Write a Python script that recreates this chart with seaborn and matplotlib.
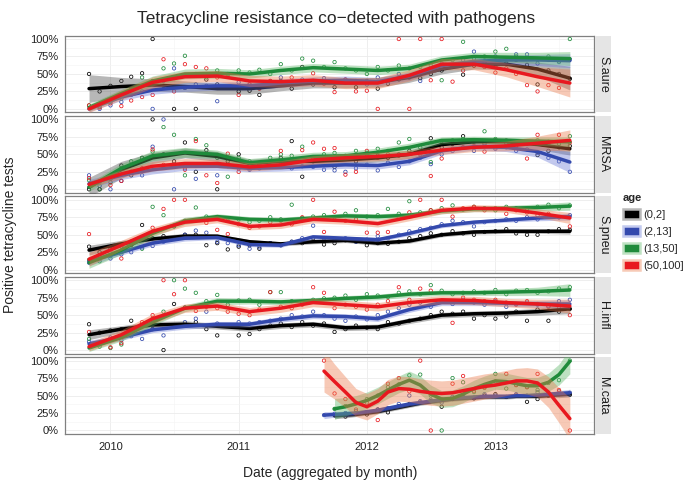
import numpy as np
import pandas as pd
import matplotlib
matplotlib.use("Agg")
import matplotlib.pyplot as plt
import matplotlib.dates as mdates
from matplotlib.ticker import MultipleLocator, FixedLocator
from matplotlib.patches import Patch
from matplotlib.colors import to_rgb
import seaborn as sns

# ── data (all values in %) ────────────────────────────────────────────
months = pd.date_range("2009-11-01", "2013-08-01", freq="MS")   # 46 months
knots = months[::3]                                              # smooth read every 3 months
mc_months = months[22:]                                          # M.cata only from Sep 2011

pathogens = ["S.aure", "MRSA", "S.pneu", "H.infl", "M.cata"]
ages = ["(0,2]", "(2,13]", "(13,50]", "(50,100]"]

saure_pts = {
    "(0,2]":    [50, 25, 33, 40, 46, 51, 100, 33, 0, 30, 0, 42, 35, 30, 25, 26, 20, 33, 40, 29, 60, 35, 40, 31, 38, 31, 40, 29, 36, 42, 45, 44, 50, 55, 60, 49, 62, 67, 60, 65, 70, 63, 35, 55, 50, 43],
    "(2,13]":   [None, 0, 5, 10, 20, 25, 0, 40, 58, 30, 35, 33, 11, 30, 38, 35, 30, 40, 45, 38, 42, 40, 44, 38, 42, 40, 35, 45, 40, 50, 45, 40, 55, 65, 62, 70, 82, 68, 75, 70, 78, 78, 65, 70, 67, 71],
    "(13,50]":  [5, 3, 10, 15, 30, 45, 40, 58, 65, 76, 50, 45, 55, 50, 55, 52, 56, 50, 64, 55, 72, 69, 60, 67, 58, 55, 50, 60, 55, 62, 58, 60, 62, 41, 70, 96, 72, 75, 82, 86, 75, 72, 70, 75, 68, 100],
    "(50,100]": [5, 2, 8, 4, 12, 17, 20, 71, 25, 64, 60, 58, 45, 48, 20, 35, 29, 40, 38, 45, 40, 51, 36, 24, 42, 25, 26, 0, 40, 100, 0, 100, 41, 100, 39, 55, 62, 60, 52, 58, 50, 34, 25, 34, 30, None],
}
mrsa_pts = {
    "(0,2]":    [0, 0, 15, 34, 20, 45, 100, 50, 40, 67, 25, 56, 0, 40, 50, 30, 35, 40, 45, 69, 18, 40, 42, 32, 45, 40, 50, 48, 45, 50, 55, 53, 73, 60, 65, 76, 68, 65, 70, 66, 62, 65, 49, 55, 60, 62],
    "(2,13]":   [20, 5, 0, 12, 25, 20, 61, 100, 0, 30, 15, 35, 20, 33, 30, 28, 30, 32, 35, 30, 33, 32, 28, 27, 25, 30, 35, 27, 38, 32, 40, 45, 36, 50, 55, 60, 55, 62, 58, 60, 55, 57, 52, 45, 40, 25],
    "(13,50]":  [13, 0, 10, 30, 40, 45, 54, 89, 78, 20, 72, 63, 45, 18, 45, 40, 38, 45, 50, 48, 61, 45, 50, 52, 48, 55, 52, 58, 55, 67, 72, 60, 39, 65, 70, 72, 68, 83, 72, 70, 68, 66, 70, 68, 65, 76],
    "(50,100]": [16, 10, 6, 12, 25, 30, 57, 35, 34, 28, 69, 20, 9, 51, 25, 35, 38, 32, 55, 40, 56, 67, 58, 59, 21, 25, 55, 45, 50, 48, 52, 50, 19, 44, 58, 60, 62, 54, 60, 65, 62, 44, 78, 65, 78, 67],
}
spneu_pts = {
    "(0,2]":    [33, 25, 30, 33, 40, 64, 45, 48, 62, 50, 50, 35, 38, 29, 33, 35, 30, 38, 35, 40, 38, 45, 36, 38, 42, 40, 35, 38, 37, 40, 45, 48, 52, 50, 55, 52, 50, 54, 55, 58, 52, 50, 50, 55, 58, 57],
    "(2,13]":   [10, 15, 16, 22, 25, 32, 34, 40, 45, 50, 56, 53, 40, 38, 35, 30, 32, 38, 35, 40, 45, 63, 45, 42, 45, 40, 43, 48, 45, 50, 55, 58, 60, 65, 70, 68, 62, 68, 70, 72, 70, 75, 72, 78, 75, 78],
    "(13,50]":  [14, 12, 20, 25, 35, 30, 90, 78, 63, 70, 89, 76, 74, 70, 72, 68, 70, 75, 72, 93, 74, 76, 78, 75, 80, 85, 76, 78, 87, 80, 98, 82, 85, 88, 92, 86, 90, 88, 85, 90, 88, 86, 90, 93, 88, 92],
    "(50,100]": [51, 20, 25, 16, 35, 45, 60, 87, 100, 100, 70, 67, 57, 51, 65, 60, 62, 68, 70, 65, 75, 100, 54, 83, 70, 72, 53, 53, 54, 75, 82, 100, 85, 100, 76, 88, 90, 85, 88, 80, 85, 82, 78, 80, 75, 62],
}
hinfl_pts = {
    "(0,2]":    [37, 25, 28, 30, 42, 35, 30, 0, 66, 61, 40, 30, 21, 35, 21, 23, 30, 35, 38, 33, 40, 35, 38, 26, 30, 35, 32, 30, 40, 38, 42, 45, 50, 55, 52, 55, 45, 50, 45, 48, 55, 42, 58, 42, 55, 59],
    "(2,13]":   [12, 8, 18, 14, 20, 16, 30, 21, 35, 40, 45, 55, 38, 35, 40, 38, 40, 42, 45, 50, 48, 55, 50, 45, 42, 48, 44, 50, 55, 60, 65, 68, 62, 70, 66, 72, 68, 65, 70, 62, 66, 68, 65, 63, 70, 72],
    "(13,50]":  [16, 5, 3, 8, 25, 35, 45, 55, 100, 88, 82, 70, 79, 65, 71, 72, 65, 83, 83, 70, 68, 72, 74, 75, 78, 72, 80, 78, 76, 82, 84, 80, 93, 85, 80, 82, 84, 82, 86, 80, 85, 86, 82, 84, 88, 90],
    "(50,100]": [26, 10, 4, 10, 28, 40, 50, 100, 80, 100, 56, 62, 60, 55, 52, 50, 58, 83, 62, 60, 65, 90, 82, 60, 65, 62, 58, 65, 70, 90, 72, 88, 85, 70, 39, 75, 72, 70, 72, 68, 65, 70, 66, 62, 60, 50],
}
mcata_pts = {
    "(0,2]":    [None, 22, 20, 25, 23, 30, 26, 35, 38, 40, 42, 34, 45, 48, 46, 50, 52, 48, 50, 41, 45, 50, 52, 51],
    "(2,13]":   [22, 24, 25, 28, 26, 30, 32, 38, 50, 42, 44, 40, 48, 50, 47, 52, 50, 48, 52, 50, 55, 54, 56, 54],
    "(13,50]":  [None, 31, 35, 40, 45, 50, 62, 66, 79, 80, 50, 0, 75, 69, 55, 62, 81, 60, 65, 62, 58, 68, 72, 100],
    "(50,100]": [100, 53, 45, 30, 40, 15, 67, 75, 56, 100, 0, 45, 67, 78, 57, 61, 70, 81, 65, 62, 81, 50, 58, 0],
}

# smoothed trend and half-width of the bands
saure_fit = {
    "(0,2]":    [29, 32, 34, 32, 29, 29, 33, 37, 37, 38, 45, 57, 64, 64, 57, 44],
    "(2,13]":   [0, 17, 27, 31, 33, 33, 37, 40, 41, 39, 47, 62, 68, 70, 70, 69],
    "(13,50]":  [2, 22, 40, 50, 51, 50, 55, 59, 57, 55, 58, 70, 75, 74, 73, 72],
    "(50,100]": [0, 20, 38, 46, 47, 40, 39, 41, 37, 37, 48, 64, 64, 56, 46, 37],
}
saure_se = {
    "(0,2]":    [20, 13, 9, 8, 8, 8, 7, 7, 7, 7, 7, 7, 7, 8, 10, 17],
    "(2,13]":   [4, 5, 6, 6, 6, 6, 6, 6, 6, 6, 6, 6, 6, 7, 8, 10],
    "(13,50]":  [5, 6, 7, 7, 7, 6, 6, 6, 6, 6, 6, 6, 6, 7, 8, 10],
    "(50,100]": [5, 7, 8, 8, 8, 8, 8, 8, 8, 8, 8, 8, 8, 10, 14, 20],
}
mrsa_fit = {
    "(0,2]":    [3, 28, 45, 52, 47, 37, 40, 40, 42, 45, 50, 64, 68, 68, 64, 58],
    "(2,13]":   [8, 20, 28, 33, 33, 30, 31, 33, 35, 34, 40, 55, 61, 60, 54, 39],
    "(13,50]":  [3, 30, 48, 53, 50, 38, 42, 47, 48, 53, 60, 70, 71, 70, 69, 68],
    "(50,100]": [7, 22, 33, 37, 37, 32, 35, 42, 45, 47, 50, 56, 60, 62, 66, 70],
}
mrsa_se = {
    "(0,2]":    [14, 12, 8, 7, 7, 6, 6, 6, 6, 6, 6, 6, 6, 6, 7, 9],
    "(2,13]":   [6, 6, 6, 6, 6, 5, 5, 5, 5, 5, 5, 5, 5, 6, 8, 15],
    "(13,50]":  [6, 7, 7, 7, 6, 6, 6, 6, 6, 6, 6, 5, 5, 5, 6, 7],
    "(50,100]": [5, 6, 7, 7, 6, 6, 6, 6, 6, 6, 6, 6, 6, 7, 10, 15],
}
spneu_fit = {
    "(0,2]":    [28, 37, 44, 48, 48, 40, 37, 40, 42, 38, 41, 50, 54, 55, 55, 55],
    "(2,13]":   [12, 25, 38, 45, 46, 36, 35, 47, 45, 43, 52, 63, 68, 71, 74, 76],
    "(13,50]":  [10, 28, 52, 70, 76, 72, 71, 74, 77, 76, 78, 84, 87, 88, 89, 91],
    "(50,100]": [15, 35, 55, 68, 72, 62, 64, 72, 70, 66, 75, 85, 88, 87, 81, 74],
}
spneu_se = {
    "(0,2]":    [7, 5, 4, 4, 3, 3, 3, 3, 3, 3, 3, 3, 3, 3, 3, 4],
    "(2,13]":   [6, 4, 4, 4, 3, 3, 3, 3, 3, 3, 3, 3, 3, 3, 4, 5],
    "(13,50]":  [8, 6, 5, 5, 4, 4, 4, 4, 4, 4, 4, 4, 4, 4, 5, 6],
    "(50,100]": [10, 7, 6, 6, 5, 5, 5, 5, 5, 5, 5, 5, 5, 5, 6, 8],
}
hinfl_fit = {
    "(0,2]":    [22, 30, 36, 37, 34, 31, 35, 37, 32, 33, 42, 50, 52, 53, 55, 59],
    "(2,13]":   [9, 18, 29, 34, 37, 37, 44, 49, 48, 45, 58, 68, 68, 67, 66, 66],
    "(13,50]":  [3, 18, 40, 60, 70, 70, 69, 71, 74, 76, 80, 82, 82, 83, 84, 86],
    "(50,100]": [5, 22, 45, 60, 63, 55, 60, 68, 65, 62, 68, 72, 71, 68, 66, 63],
}
hinfl_se = {
    "(0,2]":    [7, 5, 5, 5, 4, 4, 4, 4, 4, 4, 4, 4, 4, 4, 5, 7],
    "(2,13]":   [5, 4, 4, 4, 4, 4, 4, 4, 4, 4, 4, 4, 4, 4, 5, 6],
    "(13,50]":  [5, 5, 5, 5, 5, 4, 4, 4, 4, 4, 4, 4, 4, 5, 6, 9],
    "(50,100]": [6, 7, 7, 6, 6, 6, 6, 6, 6, 6, 6, 6, 6, 6, 7, 10],
}
mcata_fit = {
    "(0,2]":    [None, 21, 22, 23, 25, 27, 30, 33, 36, 39, 41, 43, 45, 46, 47, 48, 48, 48, 49, 49, 49, 50, 51, 52],
    "(2,13]":   [22, 23, 24, 25, 27, 29, 32, 35, 38, 40, 42, 44, 46, 47, 48, 49, 49, 49, 50, 50, 51, 52, 53, 54],
    "(13,50]":  [None, 31, 34, 38, 43, 50, 58, 66, 72, 65, 52, 45, 46, 52, 60, 66, 71, 70, 67, 64, 64, 69, 80, 99],
    "(50,100]": [85, 70, 55, 40, 34, 42, 55, 60, 59, 56, 54, 53, 54, 57, 60, 63, 65, 68, 71, 71, 68, 55, 36, 17],
}
mcata_se = {
    "(0,2]":    [None, 4, 4, 3, 3, 3, 3, 3, 3, 3, 3, 3, 3, 3, 3, 3, 3, 3, 3, 3, 3, 3, 4, 4],
    "(2,13]":   [5, 4, 4, 3, 3, 3, 3, 3, 3, 3, 3, 3, 3, 3, 3, 3, 3, 3, 3, 3, 3, 3, 4, 5],
    "(13,50]":  [None, 15, 13, 12, 12, 12, 12, 12, 13, 13, 13, 12, 12, 12, 12, 12, 12, 12, 12, 12, 12, 13, 15, 18],
    "(50,100]": [30, 25, 22, 20, 19, 18, 18, 18, 18, 18, 18, 18, 18, 18, 18, 18, 18, 18, 18, 19, 20, 22, 25, 30],
}

panels = {
    "S.aure": (months, saure_pts, knots, saure_fit, saure_se),
    "MRSA":   (months, mrsa_pts, knots, mrsa_fit, mrsa_se),
    "S.pneu": (months, spneu_pts, knots, spneu_fit, spneu_se),
    "H.infl": (months, hinfl_pts, knots, hinfl_fit, hinfl_se),
    "M.cata": (mc_months, mcata_pts, mc_months, mcata_fit, mcata_se),
}

line_cols = {"(0,2]": "#000000", "(2,13]": "#3349ad", "(13,50]": "#1f8b3b", "(50,100]": "#e8191f"}
band_cols = {"(0,2]": "#4d4d4d", "(2,13]": "#6a7ad6", "(13,50]": "#5cb666", "(50,100]": "#ec7a4a"}
BAND_ALPHA = 0.4

# ── figure ────────────────────────────────────────────────────────────
sns.set_style("white")
plt.rcParams["font.family"] = ["Liberation Sans", "DejaVu Sans"]

fig, axes = plt.subplots(5, 1, figsize=(6.85, 4.82), dpi=100, sharex=True)
fig.subplots_adjust(left=0.0949, right=0.867, top=0.9263, bottom=0.0996, hspace=0.046)

span = months[-1] - months[0]
xlo, xhi = months[0] - 0.05 * span, months[-1] + 0.05 * span

for ax, name in zip(axes, pathogens):
    x_pts, pts, x_fit, fit, se = panels[name]

    # raw monthly proportions (hollow circles)
    for age in ages:
        y = np.array(pts[age], dtype=float) / 100
        ax.scatter(x_pts, y, s=6, facecolors="none", edgecolors=line_cols[age],
                   linewidths=0.55, zorder=2)

    # smooth + confidence band, group by group
    for age in ages:
        f = np.array(fit[age], dtype=float) / 100
        h = np.array(se[age], dtype=float) / 100
        ax.fill_between(x_fit, f - h, f + h, color=band_cols[age], alpha=BAND_ALPHA,
                        lw=0, zorder=3)
        d = pd.DataFrame({"date": x_fit, "p": f}).dropna()
        sns.lineplot(data=d, x="date", y="p", ax=ax, color=line_cols[age],
                     lw=2.5, errorbar=None, zorder=3)

    ax.set_xlim(xlo, xhi)
    ax.set_ylim(-0.05, 1.05)
    ax.yaxis.set_major_locator(FixedLocator([0, 0.25, 0.5, 0.75, 1.0]))
    ax.set_yticklabels(["0%", "25%", "50%", "75%", "100%"])
    ax.yaxis.set_minor_locator(MultipleLocator(0.125))
    ax.xaxis.set_major_locator(mdates.YearLocator())
    ax.xaxis.set_major_formatter(mdates.DateFormatter("%Y"))
    ax.xaxis.set_minor_locator(mdates.MonthLocator(bymonth=7))
    ax.grid(True, which="major", color="#ebebeb", lw=0.6)
    ax.grid(True, which="minor", color="#f4f4f4", lw=0.4)
    ax.set_axisbelow(True)
    ax.tick_params(which="major", length=3, width=0.6, color="#555555",
                   labelsize=8, labelcolor="#222222", pad=1.5)
    ax.tick_params(which="minor", length=0)
    ax.tick_params(axis="x", pad=3)
    for sp in ax.spines.values():
        sp.set_color("#808080")
        sp.set_linewidth(0.9)
    ax.set_xlabel("")
    ax.set_ylabel("")

    # facet strip on the right
    strip = ax.inset_axes([1.0025, 0, 0.0302, 1])
    strip.set_facecolor("#e5e5e5")
    strip.set_xticks([])
    strip.set_yticks([])
    for sp in strip.spines.values():
        sp.set_visible(False)
    strip.text(0.5, 0.5, name, rotation=-90, ha="center", va="center",
               fontsize=9, color="#1a1a1a", transform=strip.transAxes)

fig.text(0.49, 1 - 18 / 482, "Tetracycline resistance co\u2212detected with pathogens",
         ha="center", va="center", fontsize=12.5)
fig.text(0.482, 1 - 473 / 482, "Date (aggregated by month)", ha="center", va="center",
         fontsize=10)
fig.text(10 / 685, 0.513, "Positive tetracycline tests", ha="center", va="center",
         rotation=90, fontsize=10)


def light(c, a=BAND_ALPHA):
    r, g, b = to_rgb(c)
    return (1 - a + a * r, 1 - a + a * g, 1 - a + a * b)


handles = [Patch(facecolor=line_cols[a], edgecolor=light(band_cols[a]), linewidth=1.8)
           for a in ages]
leg = fig.legend(handles, ages, title="age", loc="upper left",
                 bbox_to_anchor=(623 / 685, 1 - 193 / 482), frameon=False,
                 fontsize=8, handlelength=1.55, handleheight=1.0, labelspacing=0.55,
                 handletextpad=0.3, borderpad=0, borderaxespad=0,
                 title_fontproperties={"weight": "bold", "size": 8})
leg._legend_box.align = "left"

fig.savefig("out.png", dpi=100)
